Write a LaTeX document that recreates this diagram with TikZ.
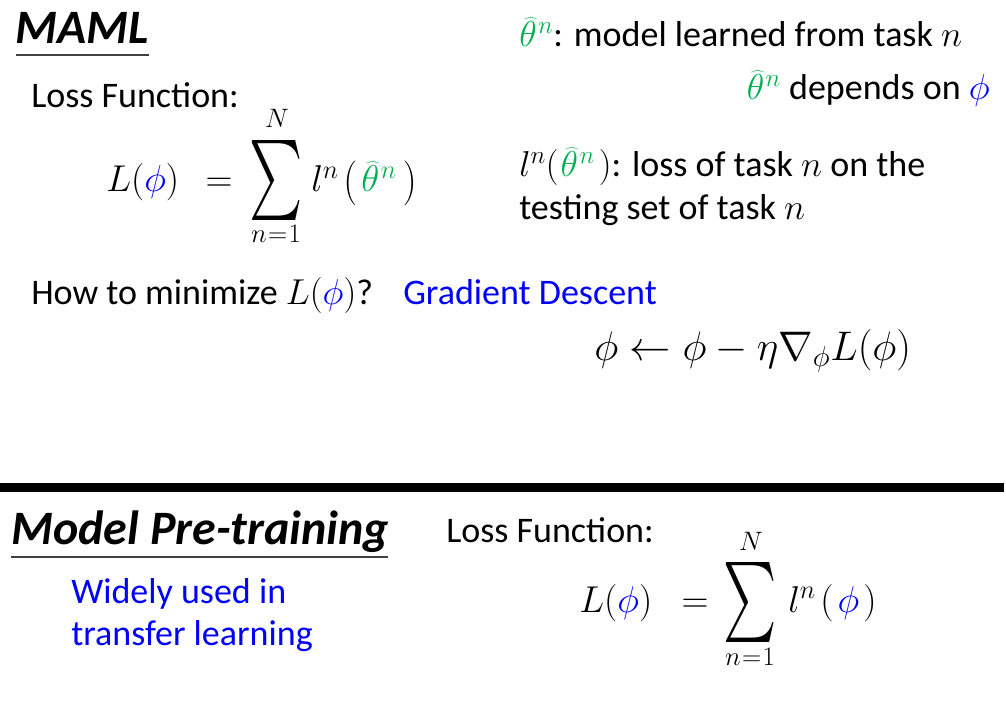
\RequirePackage{fix-cm}
\documentclass[tikz,border=0pt]{standalone}
\usepackage{fontspec}
\setmainfont{Carlito}
\usepackage{graphicx}
\definecolor{pblue}{RGB}{0,0,255}
\definecolor{pgreen}{RGB}{0,176,80}
\newcommand{\gth}{\textcolor{pgreen}{\widehat{\theta}^{\mkern1mu n}}}
\newcommand{\bphi}{\textcolor{pblue}{\phi}}
\newcommand{\bigsigma}{\resizebox*{40pt}{60pt}{$\sum$}}
\newcommand{\tallL}{\mathopen{\raisebox{-0.08em}{\scalebox{1.05}[1.2]{$($}}}}
\newcommand{\tallR}{\mathclose{\raisebox{-0.08em}{\scalebox{1.05}[1.2]{$)$}}}}
\begin{document}
\begin{tikzpicture}[x=0.75pt,y=-0.75pt,
  txt/.style={inner sep=0pt, anchor=base west, font=\fontsize{27}{32}\selectfont},
  ttl/.style={inner sep=0pt, anchor=base west, font=\fontsize{36}{42}\selectfont\bfseries\itshape},
  fml/.style={inner sep=0pt, anchor=base west, font=\fontsize{28}{33}\selectfont},
  gfml/.style={inner sep=0pt, anchor=base west, font=\fontsize{31}{37}\selectfont},
  lim/.style={inner sep=0pt, anchor=base, font=\fontsize{20}{24}\selectfont},
  bigsum/.style={inner sep=0pt, anchor=north west},
  uline/.style={line width=1.2pt, black!75},
  sep/.style={line width=6.75pt, black}
]
\useasboundingbox (0,0) rectangle (1006,702);
\fill[white] (0,0) rectangle (1006,702);

% ---------- MAML ----------
\node[ttl] (maml) at (15,44) {MAML};
\draw[uline] (16,55) -- (149,55);
\node[txt] (loss1) at (31,108) {Loss Function:};

\node[fml] (f1L) at (106,192) {$L(\bphi)$};
\node[fml, anchor=base] (f1eq) at (219,192) {$=$};
\node[bigsum] (f1sum) at (249,140) {\bigsigma};
\node[lim] (f1N) at (277,128) {$N$};
\node[lim] (f1n) at (276,243) {$n\mkern1mu{=}\mkern1mu1$};
\node[fml] (f1l) at (311,192) {$l^{n}$};
\node[fml] (f1arg) at (343,192) {$\tallL\mkern2mu\gth\mkern3mu\tallR$};

\node[txt] (r1) at (519,47) {$\gth$: model learned from task $n$};
\node[txt, anchor=base east] (r2) at (990,100) {$\gth$ depends on $\bphi$};
\node[txt] (r3) at (519,177) {$l^{n}(\mkern1mu\gth\mkern2mu)$: loss of task $n$ on the};
\node[txt] (r4) at (519,220) {testing set of task $n$};

\node[txt] (how) at (31,305) {How to minimize $L(\bphi)$?};
\node[txt, text=pblue] (gd) at (403,305) {Gradient Descent};
\node[gfml] (upd) at (594,360) {$\phi \leftarrow \phi - \eta\nabla_{\phi}L(\phi)$};

% ---------- separator ----------
\draw[sep] (0,487.5) -- (1004,487.5);

% ---------- Model Pre-training ----------
\node[ttl] (mpt) at (11,544) {Model Pre-training};
\draw[uline] (11,557) -- (388,557);
\node[txt] (loss2) at (446,542) {Loss Function:};
\node[txt, text=pblue] (w1) at (71,603) {Widely used in};
\node[txt, text=pblue] (w2) at (71,645) {transfer learning};

\node[fml] (f2L) at (579,612) {$L(\bphi)$};
\node[fml, anchor=base] (f2eq) at (695,612) {$=$};
\node[bigsum] (f2sum) at (723,562) {\bigsigma};
\node[lim] (f2N) at (751,550) {$N$};
\node[lim] (f2n) at (750,665) {$n\mkern1mu{=}\mkern1mu1$};
\node[fml] (f2l) at (788,612) {$l^{n}$};
\node[fml] (f2arg) at (820,612) {$(\mkern2mu\bphi\mkern2mu)$};
\end{tikzpicture}
\end{document}
